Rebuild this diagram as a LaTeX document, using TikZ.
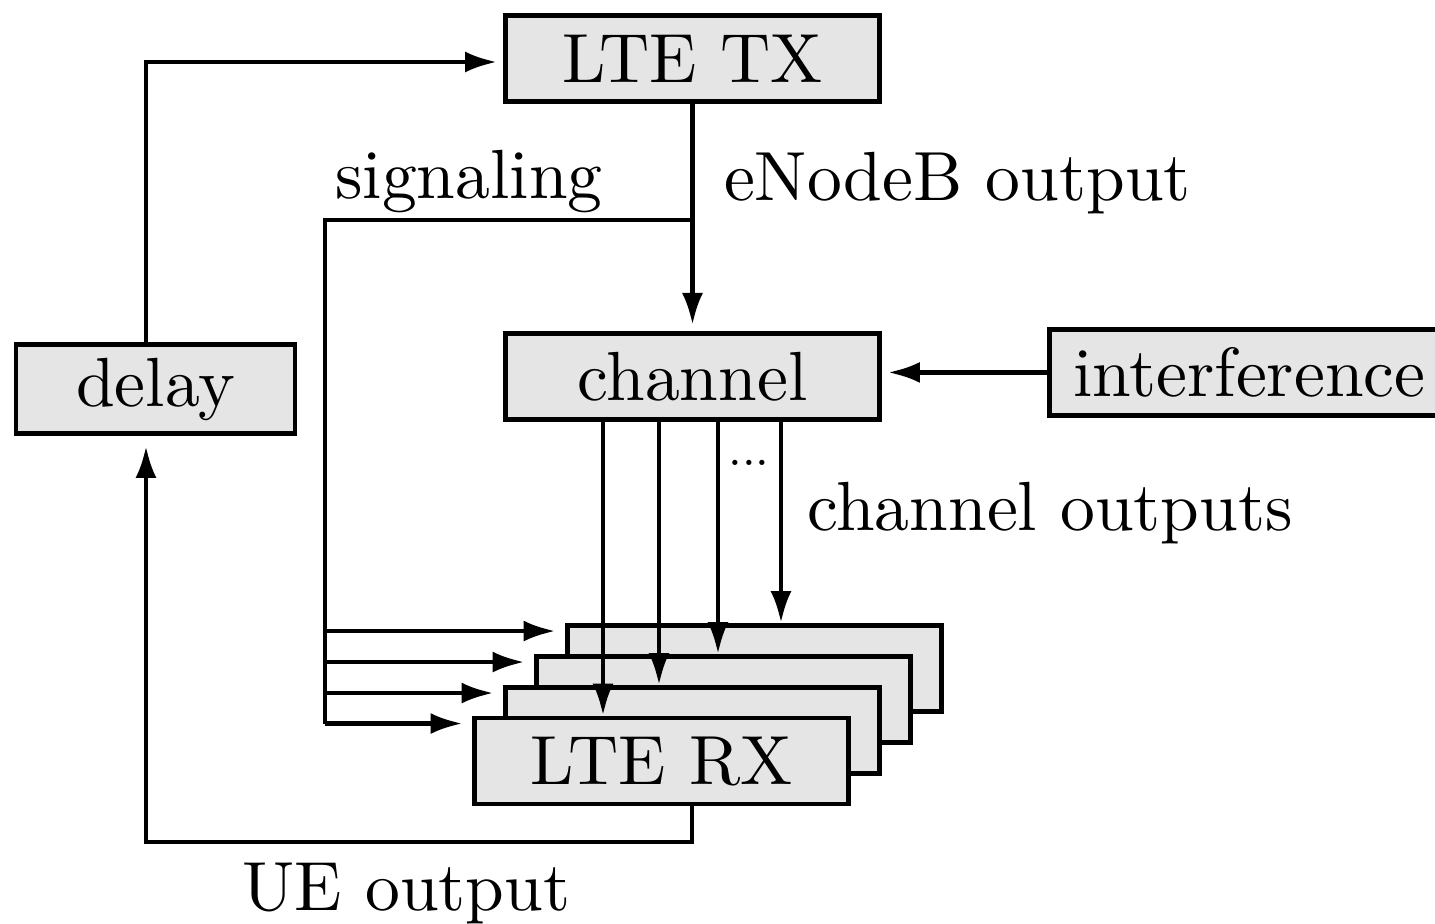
\documentclass[tikz,border=0pt]{standalone}
\usepackage{fontspec}
\setmainfont{lmroman10-regular}[Extension=.otf]
\usetikzlibrary{positioning}
\usetikzlibrary{arrows.meta}

\tikzset{
  block/.style={draw, fill=black!10, line width=1.4pt, minimum width=3.74cm,
    minimum height=0.86cm, inner sep=0pt, font=\fontsize{19.8}{24}\selectfont},
  flow/.style={line width=1.3pt, -{Latex[length=0.32cm, width=0.21cm]}, shorten >=0.06cm},
  wire/.style={line width=1.3pt},
  lbl/.style={font=\fontsize{19.8}{24}\selectfont, inner sep=0pt, anchor=base},
}

\begin{document}
\begin{tikzpicture}
  \useasboundingbox (0,0) rectangle (14.35,-9.24);
  \clip (0,0) rectangle (14.35,-9.24);

  % transmitter, channel and interference
  \node[block] (tx) at (6.925,-0.585) {LTE TX};
  \node[block, below=2.27cm of tx] (channel) {channel};
  \node[block, minimum width=4cm, right=1.65cm of channel, yshift=0.04cm] (interf) {interference};
  \node[block, minimum width=2.79cm, minimum height=0.89cm] (delay) at (1.555,-3.89) {delay};

  % receivers, stacked
  \node[block] (rx-4) at (7.545,-6.685) {};
  \node[block] (rx-3) at (7.235,-6.995) {};
  \node[block] (rx-2) at (6.925,-7.305) {};
  \node[block] (rx-1) at (6.615,-7.61) {LTE RX};

  % eNodeB output and signaling
  \coordinate (sig) at (6.925,-2.2);
  \coordinate (bus) at (3.25,-2.2);
  \draw[flow] (tx) -- (channel);
  \draw[wire] (sig) -- (bus) -- ([yshift=-0.08cm]bus |- rx-1.north);
  \foreach \i in {1,...,4}
    \draw[flow] ([yshift=-0.08cm]bus |- rx-\i.north) -- ([xshift=-0.035cm,yshift=-0.08cm]rx-\i.north west);

  % channel outputs
  \foreach \dx/\i in {-0.895/1, -0.335/2, 0.255/3, 0.885/4}
    \draw[flow, shorten >=0pt] ([xshift=\dx cm]channel.south) -- ([xshift=\dx cm]channel.south |- rx-\i.north);
  \node[font=\fontsize{14}{16}\selectfont, anchor=base, inner sep=0pt] (dots) at (7.49,-4.655) {...};
  \draw[flow] (interf.west) -- (channel.east |- interf.west);

  % feedback over the delay
  \coordinate (fb) at (1.46,-8.42);
  \draw[flow, shorten >=0.1cm] ([xshift=0.305cm]rx-1.south) |- (fb) -- (fb |- delay.south);
  \draw[flow] (fb |- delay.north) |- ([yshift=-0.035cm]tx.west);

  % labels
  \node[lbl] (signaling) at (4.69,-1.98) {signaling};
  \node[lbl] (enb-out) at (9.575,-2.0) {eNodeB output};
  \node[lbl] (ch-out) at (10.5,-5.3) {channel outputs};
  \node[lbl] (ue-out) at (4.065,-9.1) {UE output};

\end{tikzpicture}
\end{document}
